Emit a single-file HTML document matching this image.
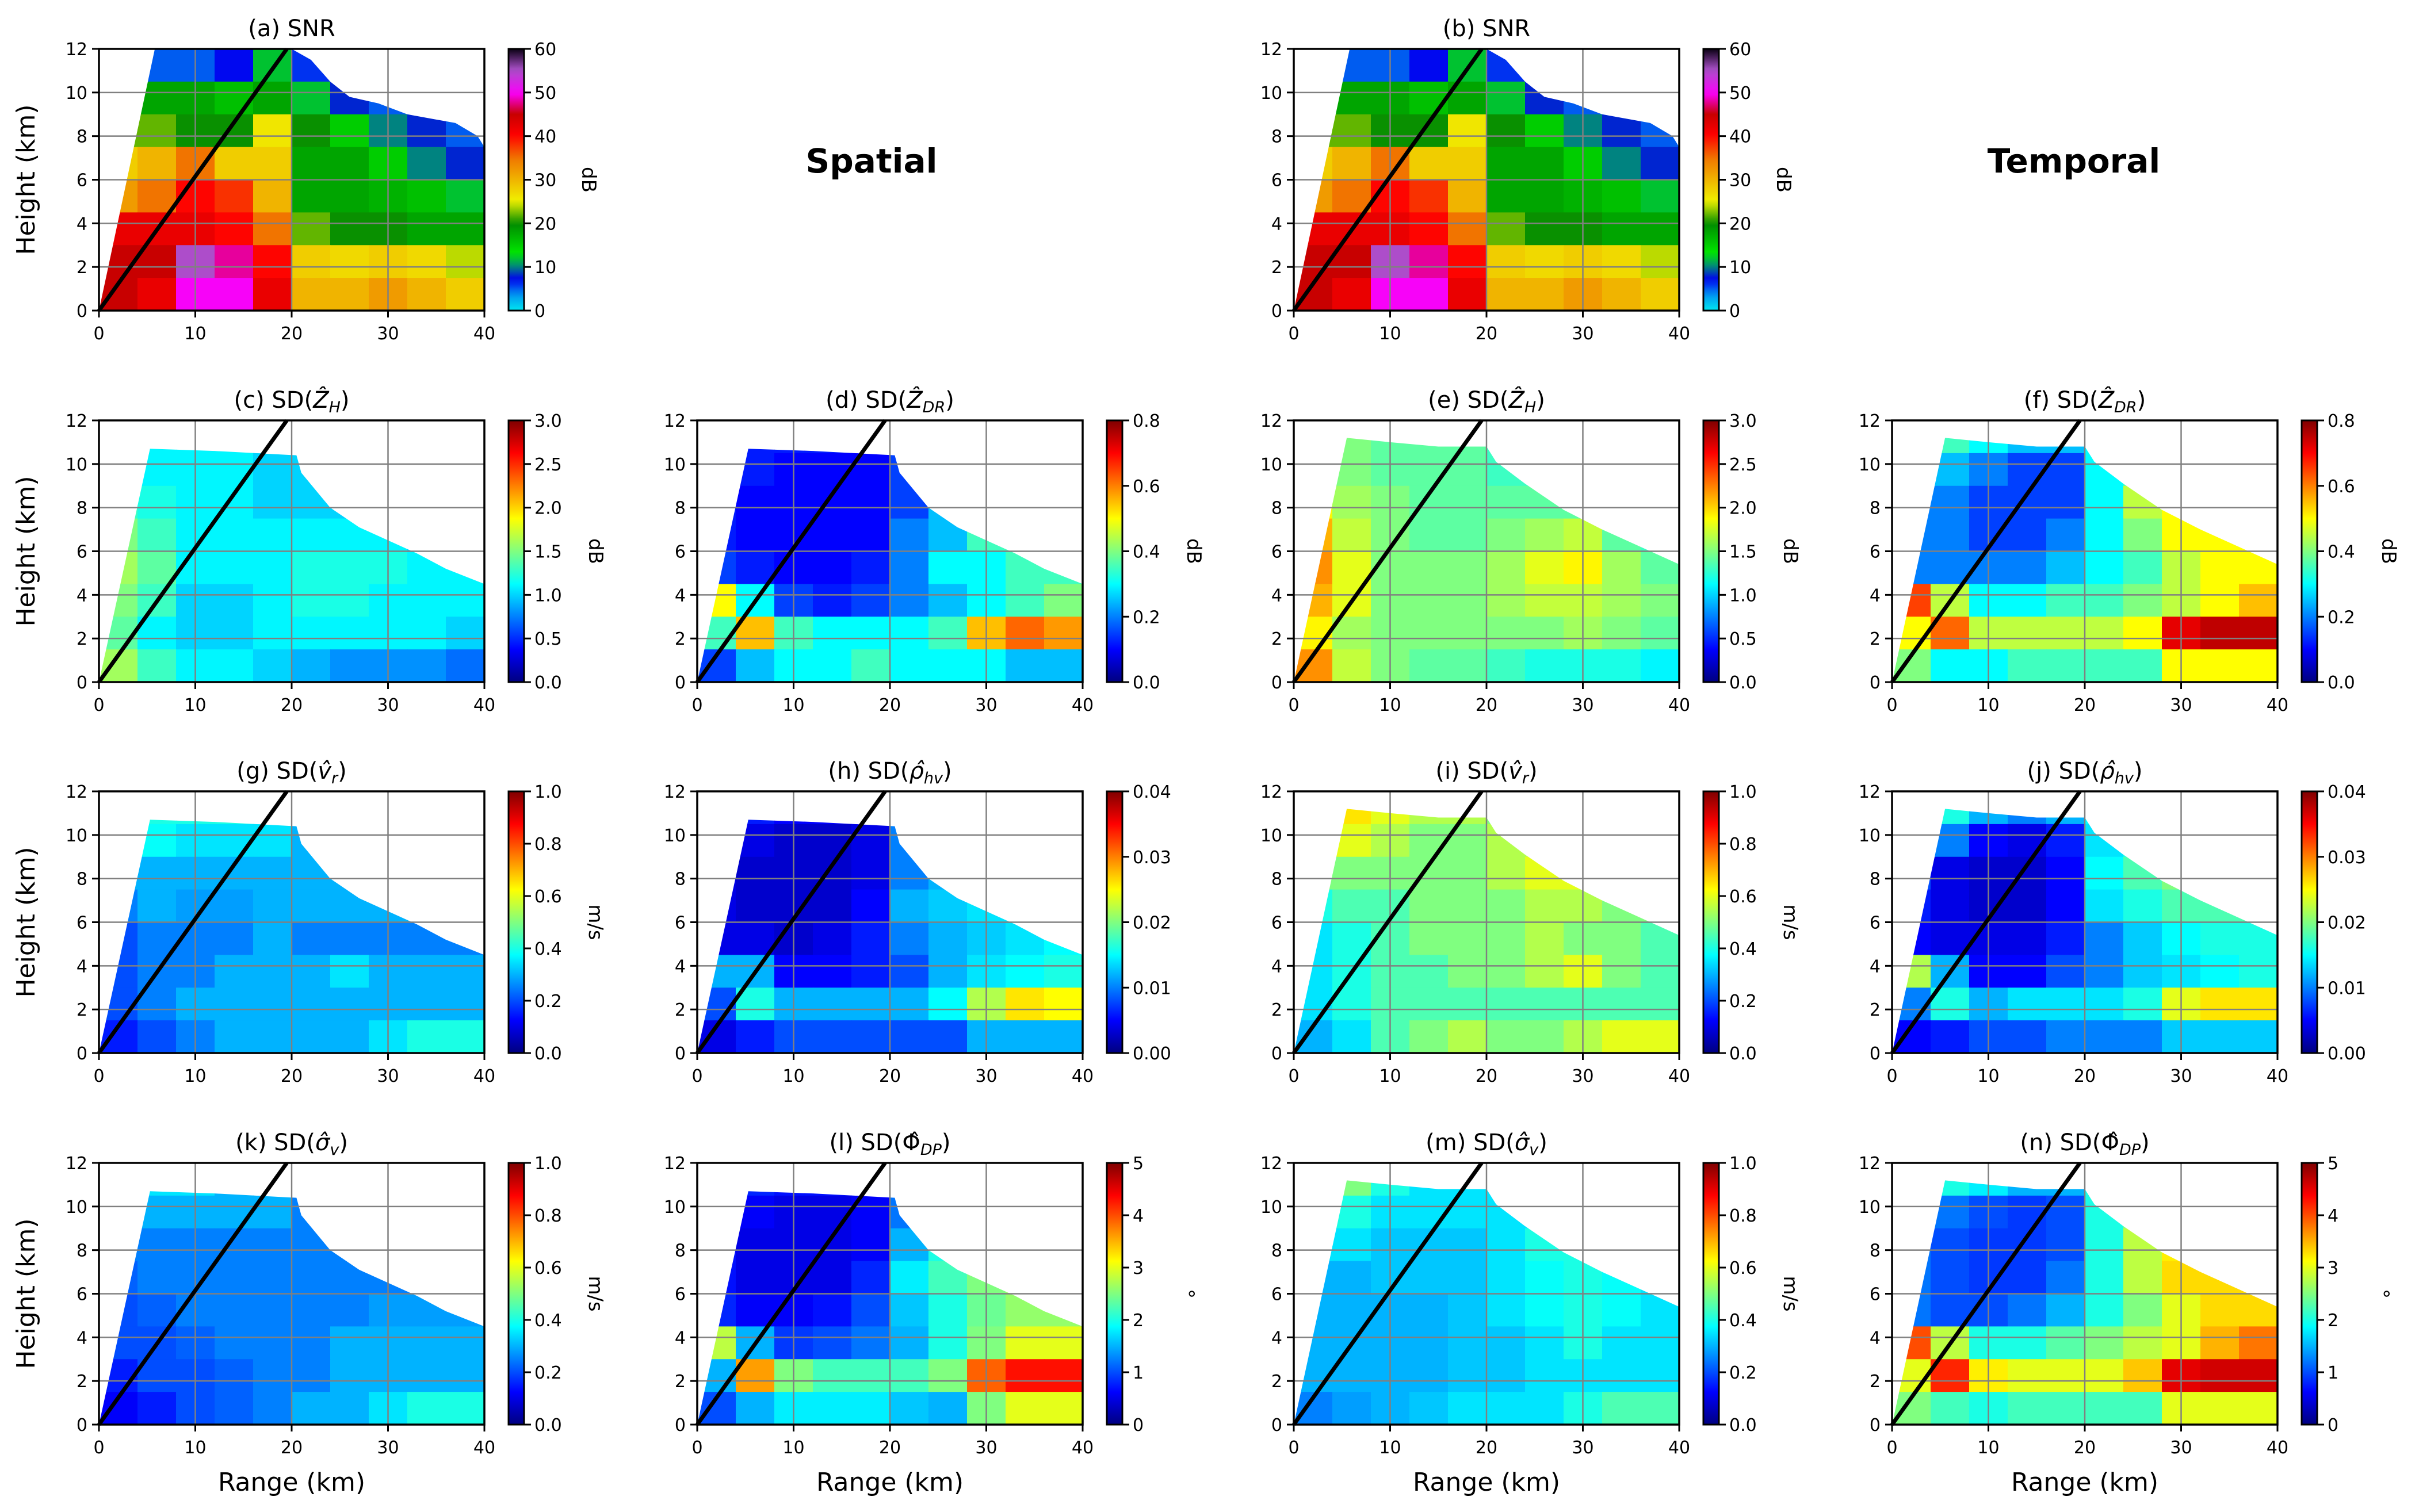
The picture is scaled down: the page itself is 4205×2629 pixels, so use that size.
<!DOCTYPE html>
<html><head><meta charset="utf-8">
<style>
html,body{margin:0;padding:0;background:#fff;}
svg{display:block;font-family:"DejaVu Sans","Liberation Sans",sans-serif;}
</style></head>
<body>
<svg id="fig" width="4205" height="2629" viewBox="0 0 4205 2629" xmlns="http://www.w3.org/2000/svg"></svg>
<script>
// Grid: 10 range bins (4 km each, 0-40 km), 8 height bins (1.5 km each), rows listed top (10.5-12 km) to bottom (0-1.5 km)
const rangeEdges = [0,4,8,12,16,20,24,28,32,36,40];
const heightEdges = [12,10.5,9,7.5,6,4.5,3,1.5,0];
const xTicks = [0,10,20,30,40];
const yTicks = [0,2,4,6,8,10,12];

const snr = [
 [5,5,5,7,12,6,3,2,2,2],
 [18,18,18,16,18,12,8,5,3,2],
 [22,22,20,20,26,20,15,10,8,5],
 [28,30,35,28,28,18,18,15,10,8],
 [32,35,40,38,30,18,18,17,16,12],
 [42,42,42,40,35,22,20,20,18,18],
 [45,45,55,48,40,28,27,28,27,24],
 [45,42,50,50,42,30,30,32,30,28]];
const sdZhSpatial = [
 [1.1,1.1,1.1,1.1,1.0,1.0,1.0,1.0,1.0,1.0],
 [1.2,1.1,1.1,1.1,1.0,1.0,1.0,1.0,1.0,1.0],
 [1.3,1.2,1.1,1.1,1.0,1.0,1.0,1.0,1.0,1.0],
 [1.5,1.3,1.1,1.1,1.1,1.1,1.1,1.1,1.0,1.0],
 [1.6,1.4,1.1,1.1,1.1,1.2,1.2,1.2,1.1,1.1],
 [1.5,1.3,1.0,1.0,1.1,1.2,1.2,1.1,1.1,1.1],
 [1.4,1.1,1.0,1.0,1.1,1.1,1.1,1.1,1.1,1.0],
 [1.6,1.3,1.1,1.1,1.0,0.9,0.8,0.8,0.8,0.7]];
const sdZdrSpatial = [
 [0.15,0.12,0.12,0.12,0.12,0.15,0.2,0.2,0.2,0.2],
 [0.15,0.12,0.1,0.1,0.1,0.15,0.2,0.2,0.2,0.2],
 [0.12,0.1,0.1,0.1,0.1,0.15,0.25,0.3,0.3,0.3],
 [0.12,0.1,0.1,0.1,0.1,0.2,0.25,0.35,0.35,0.35],
 [0.15,0.12,0.1,0.1,0.12,0.2,0.3,0.3,0.35,0.35],
 [0.5,0.3,0.15,0.12,0.15,0.2,0.25,0.3,0.35,0.4],
 [0.35,0.55,0.35,0.3,0.3,0.3,0.35,0.55,0.62,0.58],
 [0.15,0.25,0.3,0.3,0.35,0.3,0.3,0.3,0.25,0.25]];
const sdZhTemporal = [
 [1.6,1.5,1.4,1.4,1.4,1.3,1.3,1.3,1.3,1.3],
 [1.7,1.5,1.4,1.4,1.4,1.3,1.3,1.3,1.3,1.3],
 [1.9,1.6,1.5,1.4,1.4,1.4,1.4,1.4,1.3,1.3],
 [2.1,1.7,1.5,1.4,1.4,1.5,1.6,1.7,1.4,1.3],
 [2.2,1.8,1.5,1.5,1.5,1.6,1.8,1.9,1.6,1.4],
 [2.1,1.8,1.5,1.5,1.5,1.6,1.7,1.7,1.6,1.5],
 [1.9,1.6,1.5,1.5,1.5,1.5,1.5,1.6,1.5,1.4],
 [2.2,1.7,1.5,1.4,1.4,1.3,1.2,1.2,1.2,1.1]];
const sdZdrTemporal = [
 [0.3,0.35,0.3,0.25,0.25,0.3,0.35,0.35,0.35,0.35],
 [0.25,0.25,0.2,0.15,0.15,0.3,0.35,0.35,0.35,0.35],
 [0.2,0.2,0.15,0.15,0.15,0.3,0.45,0.5,0.5,0.5],
 [0.2,0.2,0.15,0.15,0.2,0.3,0.4,0.5,0.5,0.5],
 [0.2,0.2,0.2,0.2,0.25,0.3,0.35,0.45,0.5,0.5],
 [0.65,0.45,0.3,0.3,0.35,0.35,0.4,0.45,0.5,0.55],
 [0.5,0.62,0.45,0.45,0.45,0.45,0.5,0.72,0.75,0.75],
 [0.4,0.3,0.3,0.35,0.35,0.35,0.35,0.5,0.5,0.5]];
const sdVrSpatial = [
 [0.4,0.4,0.4,0.4,0.35,0.3,0.3,0.3,0.3,0.3],
 [0.4,0.38,0.35,0.35,0.35,0.3,0.3,0.3,0.3,0.3],
 [0.3,0.3,0.3,0.3,0.3,0.3,0.3,0.3,0.3,0.3],
 [0.25,0.3,0.28,0.28,0.3,0.3,0.3,0.3,0.3,0.3],
 [0.2,0.25,0.25,0.25,0.3,0.25,0.25,0.25,0.25,0.25],
 [0.2,0.25,0.25,0.3,0.3,0.3,0.35,0.3,0.3,0.3],
 [0.2,0.25,0.3,0.3,0.3,0.3,0.3,0.3,0.3,0.3],
 [0.15,0.2,0.25,0.3,0.3,0.3,0.3,0.35,0.4,0.4]];
const sdRhoSpatial = [
 [0.01,0.006,0.005,0.005,0.005,0.01,0.01,0.01,0.01,0.01],
 [0.006,0.004,0.003,0.003,0.004,0.01,0.012,0.012,0.012,0.012],
 [0.004,0.003,0.003,0.003,0.004,0.01,0.012,0.013,0.013,0.013],
 [0.004,0.003,0.003,0.003,0.005,0.012,0.013,0.014,0.014,0.014],
 [0.004,0.004,0.003,0.004,0.006,0.01,0.012,0.013,0.014,0.015],
 [0.012,0.012,0.005,0.005,0.006,0.008,0.012,0.014,0.015,0.016],
 [0.008,0.016,0.012,0.012,0.012,0.012,0.015,0.022,0.026,0.025],
 [0.004,0.006,0.008,0.008,0.008,0.008,0.008,0.012,0.012,0.012]];
const sdVrTemporal = [
 [0.7,0.65,0.6,0.55,0.55,0.5,0.5,0.5,0.5,0.5],
 [0.65,0.6,0.55,0.5,0.5,0.55,0.55,0.55,0.5,0.5],
 [0.5,0.5,0.5,0.5,0.5,0.55,0.6,0.6,0.55,0.5],
 [0.4,0.45,0.45,0.5,0.5,0.5,0.55,0.55,0.5,0.5],
 [0.35,0.4,0.45,0.5,0.5,0.5,0.55,0.5,0.5,0.45],
 [0.35,0.4,0.45,0.45,0.5,0.5,0.55,0.6,0.5,0.45],
 [0.35,0.4,0.45,0.45,0.45,0.45,0.45,0.45,0.45,0.45],
 [0.3,0.35,0.45,0.5,0.55,0.5,0.5,0.55,0.6,0.6]];
const sdRhoTemporal = [
 [0.018,0.016,0.012,0.01,0.012,0.015,0.015,0.015,0.015,0.015],
 [0.012,0.01,0.005,0.004,0.006,0.014,0.016,0.016,0.016,0.016],
 [0.008,0.004,0.003,0.003,0.005,0.015,0.018,0.02,0.018,0.018],
 [0.006,0.004,0.003,0.003,0.005,0.014,0.016,0.018,0.018,0.018],
 [0.005,0.004,0.004,0.004,0.006,0.01,0.013,0.015,0.016,0.016],
 [0.022,0.012,0.005,0.005,0.008,0.01,0.013,0.014,0.015,0.016],
 [0.01,0.016,0.012,0.014,0.014,0.014,0.016,0.024,0.026,0.026],
 [0.005,0.006,0.008,0.008,0.01,0.01,0.01,0.013,0.013,0.013]];
const sdSwSpatial = [
 [0.35,0.35,0.35,0.3,0.3,0.3,0.3,0.3,0.3,0.3],
 [0.3,0.3,0.3,0.3,0.3,0.25,0.25,0.25,0.25,0.25],
 [0.25,0.25,0.25,0.25,0.25,0.25,0.25,0.25,0.25,0.25],
 [0.22,0.25,0.25,0.25,0.25,0.25,0.25,0.25,0.25,0.25],
 [0.2,0.22,0.25,0.25,0.25,0.25,0.25,0.28,0.28,0.28],
 [0.2,0.2,0.22,0.25,0.25,0.25,0.3,0.3,0.3,0.3],
 [0.15,0.2,0.2,0.22,0.25,0.25,0.3,0.3,0.3,0.3],
 [0.12,0.15,0.2,0.22,0.25,0.3,0.3,0.35,0.4,0.4]];
const sdPhiSpatial = [
 [1,0.8,0.7,0.7,0.8,1.2,1.5,1.5,1.5,1.5],
 [0.8,0.6,0.5,0.5,0.6,1.2,1.5,1.5,1.5,1.5],
 [0.7,0.5,0.5,0.5,0.6,1.5,2,2.2,2.2,2.2],
 [0.7,0.5,0.5,0.5,0.8,1.8,2.2,2.5,2.6,2.6],
 [0.8,0.6,0.6,0.7,1,1.6,2.0,2.4,2.6,2.6],
 [2.8,1.5,0.9,1,1.2,1.5,2,2.5,3,3],
 [1.5,3.6,2.5,2.2,2.2,2.2,2.5,3.9,4.3,4.3],
 [1,1.5,1.8,1.8,1.8,1.6,1.5,2.5,3,3]];
const sdSwTemporal = [
 [0.65,0.5,0.4,0.35,0.35,0.35,0.35,0.35,0.35,0.35],
 [0.5,0.4,0.35,0.35,0.35,0.35,0.35,0.35,0.35,0.35],
 [0.35,0.35,0.32,0.32,0.32,0.35,0.4,0.4,0.35,0.35],
 [0.3,0.3,0.32,0.32,0.32,0.35,0.38,0.4,0.38,0.35],
 [0.3,0.3,0.3,0.3,0.32,0.35,0.38,0.4,0.38,0.35],
 [0.3,0.3,0.3,0.3,0.32,0.32,0.35,0.4,0.35,0.35],
 [0.3,0.3,0.3,0.3,0.32,0.32,0.35,0.35,0.35,0.35],
 [0.25,0.28,0.3,0.32,0.35,0.35,0.35,0.4,0.45,0.45]];
const sdPhiTemporal = [
 [2.2,2,1.8,1.5,1.5,2,2.2,2.2,2.2,2.2],
 [1.5,1.2,1,0.9,1,2,2.5,2.5,2.5,2.5],
 [1.2,1,0.9,0.9,1,2,2.8,3.2,3.2,3.2],
 [1.2,1,0.9,0.9,1.2,2,2.8,3.3,3.3,3.3],
 [1.2,1,1,1.2,1.5,2,2.5,3,3.3,3.3],
 [4,2.8,2,2,2.3,2.5,2.8,3,3.5,3.8],
 [3,4.2,3.2,3,3,3,3.4,4.5,4.6,4.6],
 [2.5,2.2,2,2.2,2.2,2.2,2.2,3,3,3]];

// coverage outlines (range km, height km)
const maskSnr = [[0,0],[5.8,12],[20,12],[22,11.5],[24,10.5],[26,9.8],[29,9.5],[32,9],[37,8.6],[39.3,8],[40,7.5],[40,0]];
const maskSpatial = [[0,0],[5.3,10.7],[12,10.6],[20.5,10.4],[21,9.6],[22.5,8.8],[24,8],[27,7.1],[30,6.5],[33,5.9],[36,5.2],[40,4.5],[40,0]];
const maskTemporal = [[0,0],[5.5,11.2],[10,11],[15,10.8],[20,10.8],[21,10.1],[24,9.1],[28,7.9],[32,7],[36,6.2],[40,5.4],[40,0]];

const colX = [172,1212,2249,3289];
const rowY = [85,731,1376,2022];
const W = 670, H = 455;
const NS = "http://www.w3.org/2000/svg";
const svg = document.getElementById('fig');

function jet(f){
  f=Math.max(0,Math.min(1,f));
  const c=v=>Math.round(255*Math.max(0,Math.min(1,v)));
  return `rgb(${c(1.5-Math.abs(4*f-3))},${c(1.5-Math.abs(4*f-2))},${c(1.5-Math.abs(4*f-1))})`;
}
const snrStops=[[0,[0,230,240]],[0.06,[0,150,240]],[0.12,[0,0,240]],[0.17,[0,140,120]],[0.22,[0,230,0]],[0.33,[0,140,0]],[0.42,[240,240,0]],[0.5,[240,180,0]],[0.58,[240,120,0]],[0.67,[255,0,0]],[0.75,[200,0,0]],[0.83,[250,0,250]],[0.92,[170,80,200]],[1,[10,0,20]]];
function snrMap(f){
  f=Math.max(0,Math.min(1,f));
  for(let i=1;i<snrStops.length;i++){
    if(f<=snrStops[i][0]){
      const a=snrStops[i-1],b=snrStops[i],t=(f-a[0])/(b[0]-a[0]);
      const m=a[1].map((v,k)=>Math.round(v+(b[1][k]-v)*t));
      return `rgb(${m[0]},${m[1]},${m[2]})`;
    }
  }
  return 'rgb(10,0,20)';
}
function el(tag,attrs,parent){
  const e=document.createElementNS(NS,tag);
  for(const k in attrs) e.setAttribute(k,attrs[k]);
  (parent||svg).appendChild(e);
  return e;
}

const panels = [
 {key:'a',c:0,r:0,data:snr,vmax:60,cmap:snrMap,title:'(a) SNR',ticks:['0','10','20','30','40','50','60'],lab:'dB',mask:maskSnr},
 {key:'b',c:2,r:0,data:snr,vmax:60,cmap:snrMap,title:'(b) SNR',ticks:['0','10','20','30','40','50','60'],lab:'dB',mask:maskSnr},
 {key:'c',c:0,r:1,data:sdZhSpatial,vmax:3,cmap:jet,title:'(c) SD(<tspan font-style="italic">Ẑ</tspan><tspan font-style="italic" font-size="27" dy="8">H</tspan><tspan dy="-8">)</tspan>',ticks:['0.0','0.5','1.0','1.5','2.0','2.5','3.0'],lab:'dB',mask:maskSpatial},
 {key:'d',c:1,r:1,data:sdZdrSpatial,vmax:0.8,cmap:jet,title:'(d) SD(<tspan font-style="italic">Ẑ</tspan><tspan font-style="italic" font-size="27" dy="8">DR</tspan><tspan dy="-8">)</tspan>',ticks:['0.0','0.2','0.4','0.6','0.8'],lab:'dB',mask:maskSpatial},
 {key:'e',c:2,r:1,data:sdZhTemporal,vmax:3,cmap:jet,title:'(e) SD(<tspan font-style="italic">Ẑ</tspan><tspan font-style="italic" font-size="27" dy="8">H</tspan><tspan dy="-8">)</tspan>',ticks:['0.0','0.5','1.0','1.5','2.0','2.5','3.0'],lab:'dB',mask:maskTemporal},
 {key:'f',c:3,r:1,data:sdZdrTemporal,vmax:0.8,cmap:jet,title:'(f) SD(<tspan font-style="italic">Ẑ</tspan><tspan font-style="italic" font-size="27" dy="8">DR</tspan><tspan dy="-8">)</tspan>',ticks:['0.0','0.2','0.4','0.6','0.8'],lab:'dB',mask:maskTemporal},
 {key:'g',c:0,r:2,data:sdVrSpatial,vmax:1,cmap:jet,title:'(g) SD(<tspan font-style="italic">v̂</tspan><tspan font-style="italic" font-size="27" dy="8">r</tspan><tspan dy="-8">)</tspan>',ticks:['0.0','0.2','0.4','0.6','0.8','1.0'],lab:'m/s',mask:maskSpatial},
 {key:'h',c:1,r:2,data:sdRhoSpatial,vmax:0.04,cmap:jet,title:'(h) SD(<tspan font-style="italic">ρ̂</tspan><tspan font-style="italic" font-size="27" dy="8">hv</tspan><tspan dy="-8">)</tspan>',ticks:['0.00','0.01','0.02','0.03','0.04'],lab:'',mask:maskSpatial},
 {key:'i',c:2,r:2,data:sdVrTemporal,vmax:1,cmap:jet,title:'(i) SD(<tspan font-style="italic">v̂</tspan><tspan font-style="italic" font-size="27" dy="8">r</tspan><tspan dy="-8">)</tspan>',ticks:['0.0','0.2','0.4','0.6','0.8','1.0'],lab:'m/s',mask:maskTemporal},
 {key:'j',c:3,r:2,data:sdRhoTemporal,vmax:0.04,cmap:jet,title:'(j) SD(<tspan font-style="italic">ρ̂</tspan><tspan font-style="italic" font-size="27" dy="8">hv</tspan><tspan dy="-8">)</tspan>',ticks:['0.00','0.01','0.02','0.03','0.04'],lab:'',mask:maskTemporal},
 {key:'k',c:0,r:3,data:sdSwSpatial,vmax:1,cmap:jet,title:'(k) SD(<tspan font-style="italic">σ̂</tspan><tspan font-style="italic" font-size="27" dy="8">v</tspan><tspan dy="-8">)</tspan>',ticks:['0.0','0.2','0.4','0.6','0.8','1.0'],lab:'m/s',mask:maskSpatial},
 {key:'l',c:1,r:3,data:sdPhiSpatial,vmax:5,cmap:jet,title:'(l) SD(Φ̂<tspan font-style="italic" font-size="27" dy="8">DP</tspan><tspan dy="-8">)</tspan>',ticks:['0','1','2','3','4','5'],lab:'°',mask:maskSpatial},
 {key:'m',c:2,r:3,data:sdSwTemporal,vmax:1,cmap:jet,title:'(m) SD(<tspan font-style="italic">σ̂</tspan><tspan font-style="italic" font-size="27" dy="8">v</tspan><tspan dy="-8">)</tspan>',ticks:['0.0','0.2','0.4','0.6','0.8','1.0'],lab:'m/s',mask:maskTemporal},
 {key:'n',c:3,r:3,data:sdPhiTemporal,vmax:5,cmap:jet,title:'(n) SD(Φ̂<tspan font-style="italic" font-size="27" dy="8">DP</tspan><tspan dy="-8">)</tspan>',ticks:['0','1','2','3','4','5'],lab:'°',mask:maskTemporal}
];

const defs = el('defs',{});
panels.forEach(p=>{
  const x0=colX[p.c], y0=rowY[p.r];
  const xs=v=>x0+v/40*W, ys=v=>y0+H-v/12*H;
  const g=el('g',{});
  
  

  // clip for coverage
  const cp=el('clipPath',{id:'clip-'+p.key},defs);
  el('polygon',{points:p.mask.map(q=>xs(q[0])+','+ys(q[1])).join(' ')},cp);
  const cells=el('g',{'clip-path':'url(#clip-'+p.key+')'},g);
  
  
  p.data.forEach((row,ri)=>{
    row.forEach((v,ci)=>{
      const rx=xs(rangeEdges[ci]), rw=xs(rangeEdges[ci+1])-rx+0.6;
      const ry=ys(heightEdges[ri]), rh=ys(heightEdges[ri+1])-ry+0.6;
      const cell=el('rect',{x:rx,y:ry,width:rw,height:rh,fill:p.cmap(v/p.vmax)},cells);
      
      
    });
  });
  // grid
  [10,20,30].forEach(t=>el('line',{x1:xs(t),x2:xs(t),y1:y0,y2:y0+H,stroke:'#808080','stroke-width':2.5},g));
  [2,4,6,8,10].forEach(t=>el('line',{x1:x0,x2:x0+W,y1:ys(t),y2:ys(t),stroke:'#808080','stroke-width':2.5},g));
  // beam line
  const bl=el('line',{x1:xs(0),y1:ys(0),x2:xs(19.5),y2:ys(12),stroke:'#000','stroke-width':7},g);
  
  
  // frame
  el('rect',{x:x0,y:y0,width:W,height:H,fill:'none',stroke:'#000','stroke-width':3.5},g);
  // ticks
  xTicks.forEach(t=>{
    el('line',{x1:xs(t),x2:xs(t),y1:y0+H,y2:y0+H+12,stroke:'#000','stroke-width':3},g);
    const tx=el('text',{x:xs(t),y:y0+H+50,'text-anchor':'middle','font-size':30},g);
    tx.textContent=t;
    
    
  });
  yTicks.forEach(t=>{
    el('line',{x1:x0-12,x2:x0,y1:ys(t),y2:ys(t),stroke:'#000','stroke-width':3},g);
    const tx=el('text',{x:x0-20,y:ys(t)+11,'text-anchor':'end','font-size':30},g);
    tx.textContent=t;
    
    
  });
  // title
  const tt=el('text',{x:x0+W/2,y:y0-22,'text-anchor':'middle','font-size':40},g);
  tt.innerHTML=p.title;
  
  
  // colorbar
  const cbx=x0+712, cbw=27;
  const gid='grad-'+p.key;
  const lg=el('linearGradient',{id:gid,x1:0,y1:1,x2:0,y2:0},defs);
  for(let i=0;i<=40;i++){el('stop',{offset:(i/40),'stop-color':p.cmap(i/40)},lg);}
  const cb=el('rect',{x:cbx,y:y0,width:cbw,height:H,fill:'url(#'+gid+')',stroke:'#000','stroke-width':3},g);
  
  
  const n=p.ticks.length-1;
  p.ticks.forEach((t,i)=>{
    const ty=y0+H-i/n*H;
    el('line',{x1:cbx+cbw,x2:cbx+cbw+12,y1:ty,y2:ty,stroke:'#000','stroke-width':3},g);
    const tx=el('text',{x:cbx+cbw+18,y:ty+11,'font-size':30},g);
    tx.textContent=t;
    
    
  });
  if(p.lab){
    const lx=cbx+(p.ticks[0].length>2?140:128);
    const lt=el('text',{x:lx,y:y0+H/2,'text-anchor':'middle','font-size':34,transform:`rotate(90 ${lx} ${y0+H/2})`},g);
    lt.textContent=p.lab;
    
    
  }
  // axis labels
  if(p.c===0){
    const yl=el('text',{x:60,y:y0+H/2,'text-anchor':'middle','font-size':44,transform:`rotate(-90 60 ${y0+H/2})`},g);
    yl.textContent='Height (km)';
    
    
  }
  if(p.r===3){
    const xl=el('text',{x:x0+W/2,y:2592,'text-anchor':'middle','font-size':44},g);
    xl.textContent='Range (km)';
    
    
  }
});
const s1=el('text',{x:1515,y:300,'text-anchor':'middle','font-size':58,'font-weight':'bold'});
s1.textContent='Spatial';


const s2=el('text',{x:3605,y:300,'text-anchor':'middle','font-size':58,'font-weight':'bold'});
s2.textContent='Temporal';


</script>
</body></html>
